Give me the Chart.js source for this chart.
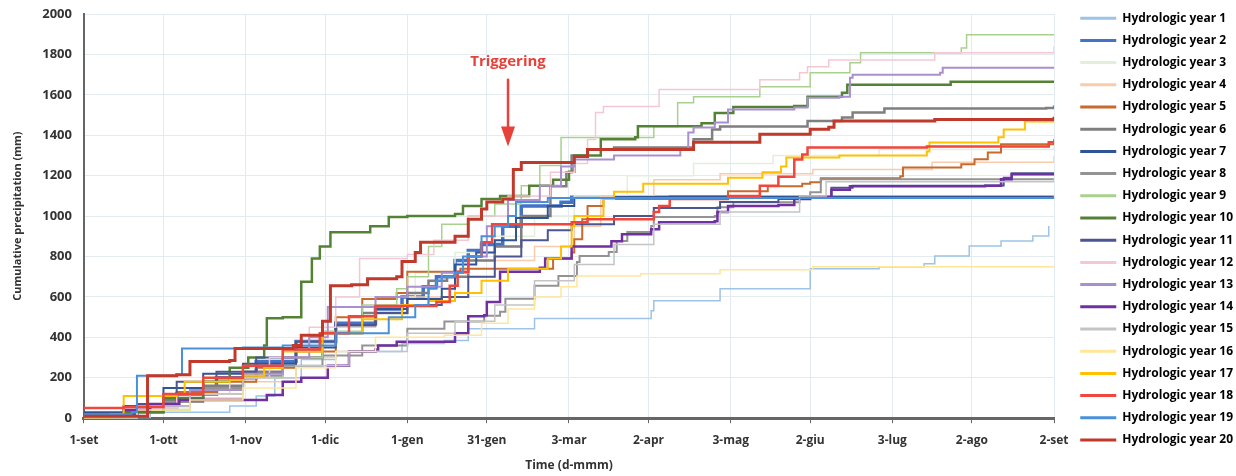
<!DOCTYPE html>
<html>
<head>
<meta charset="utf-8">
<script src="https://cdn.jsdelivr.net/npm/chart.js@4.4.1/dist/chart.umd.min.js"></script>
<style>
  body { margin: 0; background: #fff; }
  #wrap { width: 1236px; height: 476px; position: relative; }
</style>
</head>
<body>
<div id="wrap"><canvas id="rainChart"></canvas></div>
<script>
// x ticks: day of the hydrologic year (0 = 1 September)
const tickDays = [0, 30, 61, 91, 122, 152, 183, 213, 244, 274, 305, 335, 366];
const tickLabels = ['1-set', '1-ott', '1-nov', '1-dic', '1-gen', '31-gen', '3-mar', '2-apr', '3-mag', '2-giu', '3-lug', '2-ago', '2-set'];

// cumulative precipitation (mm), [day, value] step points
const hy1 = [[0,0],[25,30],[55,60],[65,110],[72,200],[82,290],[95,330],[120,370],[136,384],[145,443],[170,493],[214,532],[215,581],[240,640],[274,739],[300,750],[317,764],[321,803],[334,852],[346,877],[358,901],[364,951]];
const hy2 = [[0,0],[20,50],[35,120],[50,200],[65,280],[80,380],[95,470],[110,540],[120,600],[128,650],[133,700],[140,780],[145,830],[150,860],[158,950],[165,1050],[180,1068],[184,1093],[366,1100]];
const hy3 = [[0,0],[20,50],[40,140],[60,250],[80,380],[95,500],[110,600],[125,720],[140,820],[155,900],[170,1000],[185,1100],[205,1200],[230,1260],[260,1300],[300,1330],[366,1360]];
const hy4 = [[0,0],[20,40],[40,100],[60,180],[80,300],[95,450],[110,560],[122,600],[140,700],[155,780],[170,850],[185,950],[195,1100],[215,1180],[240,1210],[275,1231],[320,1266],[366,1300]];
const hy5 = [[0,20],[20,60],[35,130],[50,180],[65,250],[80,330],[95,500],[105,590],[118,620],[122,725],[142,740],[177,790],[184,820],[185,885],[188,985],[190,1050],[196,1085],[221,1098],[243,1123],[258,1148],[271,1160],[274,1167],[278,1187],[308,1197],[309,1241],[331,1256],[336,1281],[341,1315],[346,1355],[366,1380]];
const hy6 = [[0,0],[15,30],[30,90],[45,160],[60,230],[75,300],[90,420],[105,520],[122,620],[130,680],[137,700],[145,780],[155,850],[165,1000],[176,1148],[182,1217],[184,1300],[190,1330],[200,1340],[230,1380],[237,1428],[240,1443],[273,1470],[286,1488],[290,1512],[302,1532],[363,1535],[366,1547]];
const hy7 = [[0,30],[15,60],[30,150],[45,220],[60,270],[80,350],[95,460],[110,540],[122,590],[135,640],[140,760],[148,820],[155,880],[163,990],[175,1050],[185,1090],[200,1095],[366,1098]];
const hy8 = [[0,0],[15,30],[30,80],[45,150],[60,210],[75,260],[90,310],[105,360],[122,443],[136,478],[151,507],[157,527],[159,591],[170,655],[179,704],[186,773],[187,803],[198,822],[201,877],[205,921],[214,951],[215,995],[238,1000],[239,1044],[245,1069],[270,1098],[274,1118],[278,1182],[366,1187]];
const hy9 = [[0,0],[20,40],[40,120],[60,200],[75,300],[90,430],[105,560],[118,640],[122,700],[130,850],[135,960],[145,1000],[155,1060],[165,1150],[172,1250],[180,1389],[215,1443],[224,1561],[230,1591],[255,1640],[274,1709],[289,1759],[293,1808],[331,1832],[333,1897],[366,1900]];
const hy10 = [[0,0],[15,30],[30,100],[45,180],[55,250],[62,300],[68,360],[69,495],[75,500],[82,675],[86,790],[89,850],[93,920],[106,920],[108,950],[112,950],[115,995],[122,1000],[140,1010],[143,1050],[150,1085],[157,1100],[168,1150],[177,1180],[183,1220],[185,1300],[195,1380],[208,1390],[209,1445],[233,1460],[238,1510],[245,1540],[268,1545],[273,1590],[286,1610],[288,1650],[327,1665],[366,1665]];
const hy11 = [[0,20],[20,70],[35,180],[50,230],[65,300],[80,380],[95,460],[110,520],[122,560],[135,600],[145,700],[155,800],[165,880],[175,930],[184,960],[200,1000],[215,1040],[240,1070],[262,1085],[270,1095],[282,1140],[290,1150],[340,1152],[347,1190],[350,1212],[366,1212]];
const hy12 = [[0,0],[15,50],[35,120],[55,200],[70,300],[85,450],[95,600],[104,790],[122,810],[132,880],[145,1000],[160,1100],[176,1217],[185,1260],[190,1379],[193,1512],[196,1542],[217,1626],[255,1675],[270,1709],[273,1739],[281,1773],[321,1808],[366,1840]];
const hy13 = [[0,10],[20,60],[40,140],[60,220],[75,300],[85,400],[92,550],[110,600],[122,650],[135,720],[145,800],[152,950],[160,1080],[172,1150],[180,1245],[185,1280],[200,1300],[225,1330],[228,1414],[230,1438],[238,1463],[243,1527],[268,1537],[273,1586],[285,1590],[289,1685],[290,1700],[323,1709],[324,1734],[366,1734]];
const hy14 = [[0,10],[15,40],[25,70],[36,90],[66,90],[69,115],[75,180],[82,200],[91,200],[92,260],[100,330],[110,340],[111,360],[118,378],[138,378],[140,420],[145,505],[151,510],[152,575],[157,725],[172,745],[174,790],[184,850],[199,875],[203,910],[214,935],[217,970],[238,975],[239,1020],[243,1050],[262,1055],[268,1085],[274,1095],[282,1130],[289,1148],[340,1150],[346,1182],[350,1207],[366,1210]];
const hy15 = [[0,0],[20,60],[40,120],[60,200],[80,260],[100,330],[122,420],[140,480],[155,560],[170,680],[185,760],[200,860],[215,960],[240,1020],[270,1100],[280,1170],[366,1190]];
const hy16 = [[0,0],[20,40],[40,90],[60,150],[80,250],[95,330],[110,400],[136,410],[150,470],[160,540],[170,600],[180,650],[186,704],[210,715],[240,735],[275,750],[366,750]];
const hy17 = [[0,0],[10,20],[15,110],[35,120],[38,180],[55,190],[60,210],[68,250],[75,330],[90,420],[105,490],[120,560],[130,580],[140,620],[150,680],[160,740],[175,790],[180,850],[184,950],[185,1000],[196,1085],[200,1120],[211,1160],[243,1190],[256,1217],[263,1246],[265,1290],[285,1300],[318,1320],[319,1364],[345,1390],[347,1428],[355,1468],[366,1492]];
const hy18 = [[0,50],[15,55],[30,120],[45,200],[60,260],[75,340],[89,420],[100,505],[110,555],[133,575],[138,655],[141,725],[145,800],[150,870],[154,960],[184,970],[190,985],[215,1020],[217,1050],[221,1085],[243,1100],[255,1150],[262,1195],[268,1280],[271,1305],[273,1340],[318,1345],[364,1365],[366,1370]];
const hy19 = [[0,20],[18,30],[20,210],[35,215],[37,345],[60,350],[75,360],[95,420],[115,500],[125,560],[130,640],[133,680],[135,700],[140,720],[143,800],[150,900],[155,950],[160,1000],[163,1070],[175,1090],[366,1100]];
const hy20 = [[0,10],[23,10],[24,210],[35,215],[40,280],[55,285],[57,345],[79,360],[82,410],[90,480],[93,655],[101,660],[107,690],[118,700],[120,775],[125,820],[127,870],[140,900],[145,985],[150,1035],[152,1070],[158,1085],[162,1230],[165,1265],[183,1265],[185,1295],[190,1330],[230,1365],[255,1405],[274,1430],[281,1440],[283,1470],[321,1478],[366,1492]];

const seriesData = [hy1, hy2, hy3, hy4, hy5, hy6, hy7, hy8, hy9, hy10, hy11, hy12, hy13, hy14, hy15, hy16, hy17, hy18, hy19, hy20];
const colors = ['#9DC3E6', '#4472C4', '#E2EFDA', '#F8CBAD', '#C8692E', '#7F7F7F', '#2F5597', '#939393', '#A9D18E', '#548235',
                '#4B5590', '#F4C7D3', '#A98FCF', '#7030A0', '#C4C4C4', '#FFE699', '#FFC000', '#F0463C', '#4A90D9', '#C0392B'];
const widths = [1.5, 3.5, 1.5, 1.5, 2, 2.5, 2, 2, 1.5, 2.5, 2, 1.5, 2, 2.5, 1.5, 1.5, 2, 2.5, 2, 3];

const legendExtra = 9;   // extra room left of the legend
const legendShift = 16;  // move legend items right
const legendDrop = 2;    // move legend items down

// legend placement tweaks + red "Triggering" arrow
const triggerDay = 160;
const triggerPlugin = {
  id: 'trigger',
  afterInit(chart) {
    const lg = chart.legend;
    const fit = lg.fit.bind(lg);
    lg.fit = function () { fit(); this.width += legendExtra; };
  },
  afterLayout(chart) {
    chart.legend.left += legendShift;
    chart.legend.top += legendDrop;
  },
  afterDatasetsDraw(chart) {
    const { ctx, scales } = chart;
    const x = scales.x.getPixelForValue(triggerDay);
    const yText = scales.y.getPixelForValue(1765);
    const yTop = scales.y.getPixelForValue(1680);
    const yTip = scales.y.getPixelForValue(1345);
    ctx.save();
    ctx.fillStyle = '#E8413A';
    ctx.strokeStyle = '#E8413A';
    ctx.font = 'bold 15px "Open Sans"';
    ctx.textAlign = 'center';
    ctx.textBaseline = 'middle';
    ctx.fillText('Triggering', x, yText);
    ctx.lineWidth = 2.5;
    ctx.beginPath();
    ctx.moveTo(x, yTop);
    ctx.lineTo(x, yTip - 18);
    ctx.stroke();
    ctx.beginPath();
    ctx.moveTo(x - 7, yTip - 20);
    ctx.lineTo(x + 7, yTip - 20);
    ctx.lineTo(x, yTip);
    ctx.closePath();
    ctx.fill();
    ctx.restore();
  }
};

document.addEventListener('DOMContentLoaded', () => {
  const datasets = seriesData.map((pts, i) => ({
    label: 'Hydrologic year ' + (i + 1),
    data: pts.map(p => ({ x: p[0], y: p[1] })),
    borderColor: colors[i],
    backgroundColor: colors[i],
    borderWidth: widths[i],
    stepped: true,
    pointRadius: 0,
    fill: false,
    order: 20 - i
  }));

  new Chart(document.getElementById('rainChart').getContext('2d'), {
    type: 'line',
    data: { datasets },
    options: {
      responsive: true,
      maintainAspectRatio: false,
      animation: false,
      layout: { padding: { top: 0, right: 0, left: 11, bottom: 3 } },
      plugins: {
        legend: {
          position: 'right',
          align: 'start',
          labels: {
            sort: (a, b) => a.datasetIndex - b.datasetIndex,
            boxWidth: 36,
            boxHeight: 3,
            padding: 10.2,
            color: '#222',
            font: { family: 'Open Sans', size: 12, weight: 'bold' },
            generateLabels(chart) {
              return chart.data.datasets.map((ds, i) => ({
                text: ds.label,
                fillStyle: ds.borderColor,
                strokeStyle: ds.borderColor,
                lineWidth: 0,
                hidden: false,
                datasetIndex: i
              }));
            }
          }
        },
        tooltip: { enabled: false }
      },
      scales: {
        x: {
          type: 'linear',
          min: 0,
          max: 366,
          afterBuildTicks(scale) {
            scale.ticks = tickDays.map(v => ({ value: v }));
          },
          ticks: {
            autoSkip: false,
            maxRotation: 0,
            padding: 10,
            color: '#333',
            font: { family: 'Open Sans', size: 12, weight: 'bold' },
            callback: (v) => tickLabels[tickDays.indexOf(v)]
          },
          grid: { color: '#E3EBEF', tickLength: 5, tickColor: '#666' },
          border: { color: '#666', width: 3 },
          title: {
            display: true,
            text: 'Time (d-mmm)',
            color: '#333',
            font: { family: 'Open Sans', size: 12, weight: 'bold' },
            padding: { top: 1, bottom: 0 }
          }
        },
        y: {
          min: 0,
          max: 2000,
          afterFit(scale) {
            scale.paddingTop = 14;
          },
          ticks: {
            stepSize: 200,
            color: '#333',
            padding: 12,
            font: { family: 'Open Sans', size: 13, weight: 'bold' },
            callback: (v) => String(v)
          },
          grid: { color: '#E3EBEF', drawTicks: false },
          border: { color: '#666', width: 2 },
          title: {
            display: true,
            text: 'Cumulative precipitation (mm)',
            color: '#333',
            font: { family: 'Open Sans', size: 11, weight: 'bold' },
            padding: { top: 0, bottom: 6 }
          }
        }
      }
    },
    plugins: [triggerPlugin]
  });
});
</script>
</body>
</html>
